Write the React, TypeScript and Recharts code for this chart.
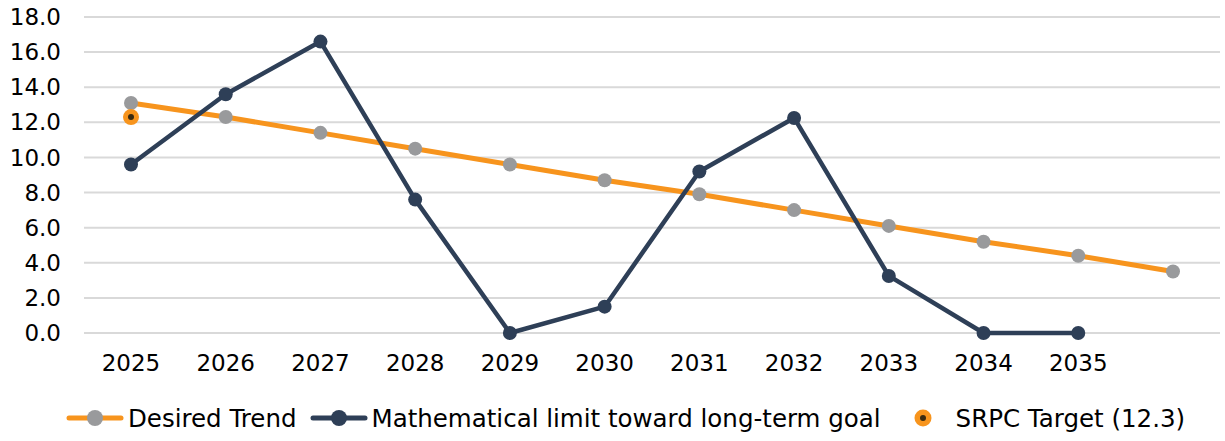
import { LineChart, Line, XAxis, YAxis, CartesianGrid, Legend } from 'recharts'

const years = ['2025', '2026', '2027', '2028', '2029', '2030', '2031', '2032', '2033', '2034', '2035', '']
const desiredTrend = [13.1, 12.3, 11.4, 10.5, 9.6, 8.7, 7.9, 7.0, 6.1, 5.2, 4.4, 3.5]
const mathLimit = [9.6, 13.6, 16.6, 7.6, 0, 1.5, 9.2, 12.25, 3.25, 0, 0, null]
const srpcTarget = [12.3, null, null, null, null, null, null, null, null, null, null, null]
const yTicks = [0, 2, 4, 6, 8, 10, 12, 14, 16, 18]

const ORANGE = '#F7941D'
const NAVY = '#2E3F57'
const GREY = '#999A9C'
const FONT = 'Verdana, "DejaVu Sans", sans-serif'

const data = years.map((year, i) => ({
  year,
  trend: desiredTrend[i],
  limit: mathLimit[i],
  target: srpcTarget[i],
}))

const TargetDot = (props: any) => {
  const { cx, cy, value } = props
  if (value == null || cx == null || cy == null) return null
  return (
    <g>
      <circle cx={cx} cy={cy} r={8} fill={ORANGE} />
      <circle cx={cx} cy={cy} r={3} fill="#3a2a10" />
    </g>
  )
}

const LegendContent = () => (
  <div
    style={{
      display: 'flex',
      alignItems: 'center',
      height: 58,
      paddingLeft: 66,
      paddingTop: 12,
      boxSizing: 'border-box',
      fontFamily: FONT,
      fontSize: 24.5,
      color: '#000',
      whiteSpace: 'nowrap',
    }}
  >
    <svg width={58} height={20}>
      <line x1={3} y1={10} x2={55} y2={10} stroke={ORANGE} strokeWidth={5} strokeLinecap="round" />
      <circle cx={29} cy={10} r={8} fill={GREY} />
    </svg>
    <span style={{ marginLeft: 4 }}>Desired Trend</span>
    <svg width={58} height={20} style={{ marginLeft: 13 }}>
      <line x1={3} y1={10} x2={55} y2={10} stroke={NAVY} strokeWidth={5} strokeLinecap="round" />
      <circle cx={29} cy={10} r={8} fill={NAVY} />
    </svg>
    <span style={{ marginLeft: 4 }}>Mathematical limit toward long-term goal</span>
    <svg width={20} height={20} style={{ marginLeft: 32 }}>
      <circle cx={10} cy={10} r={8.5} fill={ORANGE} />
      <circle cx={10} cy={10} r={3} fill="#3a2a10" />
    </svg>
    <span style={{ marginLeft: 23 }}>SRPC Target (12.3)</span>
  </div>
)

export default function App() {
  return (
    <div style={{ position: 'absolute', left: 0, top: 0, background: '#fff' }}>
      <LineChart
        width={1225}
        height={441}
        data={data}
        margin={{ top: 17, right: 5, left: 0, bottom: 0 }}
      >
        <CartesianGrid vertical={false} stroke="#d9d9d9" strokeWidth={2} />
        <XAxis
          dataKey="year"
          axisLine={false}
          tickLine={false}
          tickSize={0}
          tickMargin={22}
          height={50}
          interval={0}
          padding={{ left: 47, right: 47 }}
          tick={{ fill: '#000', fontSize: 23, fontFamily: FONT }}
        />
        <YAxis
          domain={[0, 18]}
          ticks={yTicks}
          width={84}
          axisLine={false}
          tickLine={false}
          tickSize={0}
          tickMargin={23}
          tickFormatter={(v: number) => v.toFixed(1)}
          tick={{ fill: '#000', fontSize: 23, fontFamily: FONT }}
        />
        <Legend verticalAlign="bottom" height={58} content={<LegendContent />} />
        <Line
          dataKey="trend"
          stroke={ORANGE}
          strokeWidth={5}
          dot={{ r: 7, fill: GREY, stroke: 'none' }}
          activeDot={false}
          isAnimationActive={false}
          name="Desired Trend"
        />
        <Line
          dataKey="limit"
          stroke={NAVY}
          strokeWidth={4.5}
          strokeLinejoin="round"
          dot={{ r: 7, fill: NAVY, stroke: 'none' }}
          activeDot={false}
          isAnimationActive={false}
          name="Mathematical limit toward long-term goal"
        />
        <Line
          dataKey="target"
          stroke="none"
          dot={<TargetDot />}
          activeDot={false}
          isAnimationActive={false}
          name="SRPC Target (12.3)"
        />
      </LineChart>
    </div>
  )
}
